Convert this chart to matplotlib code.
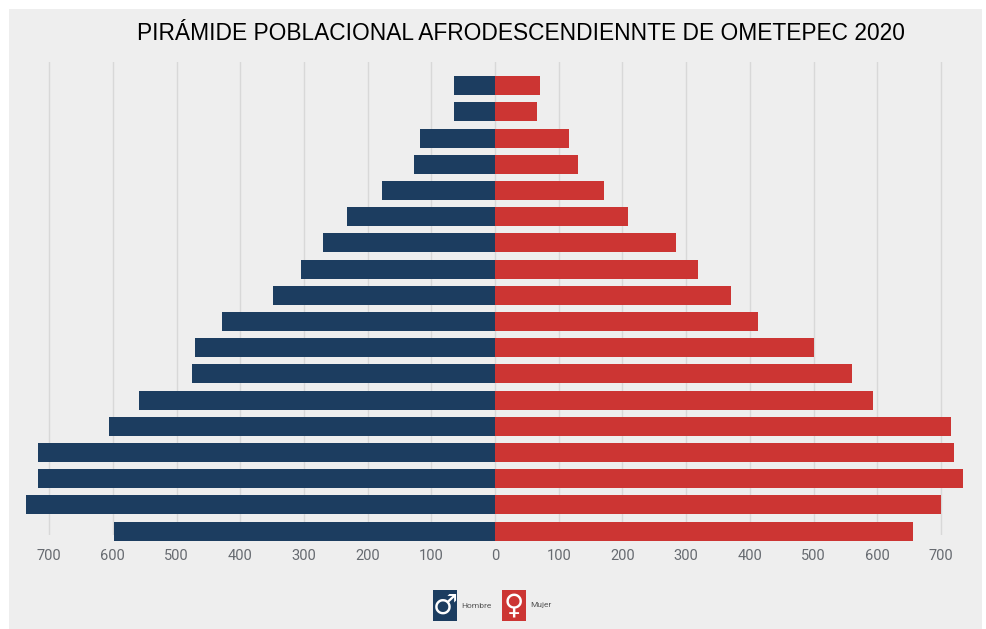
"""Piramide poblacional afrodescendiente de Ometepec 2020."""
import numpy as np
import matplotlib
matplotlib.use("Agg")
import matplotlib.pyplot as plt
from matplotlib.patches import Rectangle

# Bars from the top of the pyramid down to the base
hombres = [64, 64, 118, 127, 177, 232, 270, 305, 349, 429, 471, 476, 559, 606, 717, 717, 736, 598]
mujeres = [71, 66, 116, 130, 171, 209, 284, 319, 370, 413, 501, 560, 593, 716, 721, 735, 700, 656]
ticks = [-700, -600, -500, -400, -300, -200, -100, 0, 100, 200, 300, 400, 500, 600, 700]
tick_labels = ["700", "600", "500", "400", "300", "200", "100", "0", "100", "200", "300", "400", "500", "600", "700"]
titulo = "PIRÁMIDE POBLACIONAL AFRODESCENDIENNTE DE OMETEPEC 2020"

W, H = 986, 629
NAVY = "#1c3d60"
RED = "#cc3533"
PANEL = "#eeeeee"
NARROW = ["Liberation Sans Narrow", "Roboto", "DejaVu Sans"]


def px_box(x0, y0, x1, y1):
    """Figure-fraction box from pixel corners (y measured from the top)."""
    return [x0 / W, 1 - y1 / H, (x1 - x0) / W, (y1 - y0) / H]


def legend_item(x, color, symbol, label):
    """Coloured square with the sex symbol, then its label."""
    l, b, w, h = px_box(x, 590, x + 24, 621)
    fig.add_artist(Rectangle((l, b), w, h, transform=fig.transFigure, facecolor=color,
                             edgecolor="none"))
    fig.text(l + w / 2, b + h / 2, symbol, color="white", fontsize=20, ha="center",
             va="center", family="DejaVu Sans")
    fig.text((x + 28) / W, b + h / 2, label, color="#555555", fontsize=6, ha="left",
             va="center", family=NARROW)


fig = plt.figure(figsize=(W / 100, H / 100), dpi=100, facecolor="white")
fig.add_artist(Rectangle((9 / W, 0), 973 / W, 1 - 9 / H, transform=fig.transFigure,
                         facecolor=PANEL, edgecolor="none", zorder=-1))

ax = fig.add_axes(px_box(9, 62, 982, 535))
ax.patch.set_alpha(0)
pos = np.arange(len(hombres))
# The lowest bars reach a little past the end of the grid lines
ax.barh(pos, -np.array(hombres), height=0.72, color=NAVY, zorder=3, clip_on=False)
ax.barh(pos, mujeres, height=0.72, color=RED, zorder=3, clip_on=False)

ax.set_xlim(-763, 764.5)
ax.set_ylim(17.15, -0.905)
ax.set_xticks(ticks)
ax.set_xticklabels(tick_labels, family=NARROW, fontsize=10.5, color="#666a70")
ax.set_yticks([])
ax.tick_params(axis="x", length=0, pad=10)
ax.grid(axis="x", color="#d8d8d8", linewidth=1.0, zorder=0)
for s in ax.spines.values():
    s.set_visible(False)

fig.text(520.5 / W, 1 - 33 / H, titulo, family="Liberation Sans", fontsize=16.4,
         color="#000000", ha="center", va="center")

legend_item(433, NAVY, "\u2642", "Hombre")
legend_item(502, RED, "\u2640", "Mujer")

fig.savefig("out.png", dpi=100)
